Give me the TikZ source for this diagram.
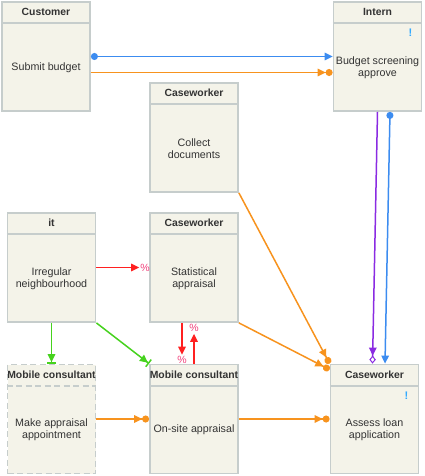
\documentclass[tikz,border=0pt]{standalone}
\usepackage{fontspec}
\setmainfont{Liberation Sans}
\usepackage{tikz}
\usetikzlibrary{positioning, arrows.meta, calc}
\definecolor{boxfill}{HTML}{F4F3E9}
\definecolor{boxline}{HTML}{C6CDCC}
\definecolor{inkgray}{HTML}{333333}
\definecolor{flowblue}{HTML}{3C8CF0}
\definecolor{floworange}{HTML}{F7931E}
\definecolor{flowred}{HTML}{FF2020}
\definecolor{flowpink}{HTML}{F0407A}
\definecolor{flowgreen}{HTML}{46D21E}
\definecolor{flowpurple}{HTML}{8A2BE2}
\definecolor{flagblue}{HTML}{33AAFF}
\tikzset{every node/.append style={execute at begin node={\hyphenpenalty=10000\exhyphenpenalty=10000\relax}}}
\tikzset{ahead/.tip={Triangle[length=8pt, width=7.5pt]},
  dot/.tip={Circle[length=7pt]},
  odia/.tip={Diamond[length=8pt, width=6.5pt, fill=white, line width=1pt]}}
% one activity: frame, role line, role and task
\newcommand{\taskbox}[5][]{%
  \node[task, #1] (#2) at (#3) {};
  \draw[boxline, line width=1.8pt, #1] ([yshift=-22pt]#2.north west) -- ([yshift=-22pt]#2.north east);
  \node[head] (#2-role) at ([yshift=-11pt]#2.north) {#4};
  \node[body] (#2-task) at ([yshift=-11pt]#2.center) {#5};
}

\begin{document}
\begin{tikzpicture}[x=1pt, y=-1pt, text=inkgray,
  task/.style={draw=boxline, fill=boxfill, line width=1.8pt, minimum width=88pt, minimum height=109pt, inner sep=0pt},
  head/.style={font=\fontsize{10.4}{12}\selectfont\bfseries, inner sep=0pt},
  body/.style={font=\fontsize{10.7}{12}\selectfont, align=center, inner sep=0pt},
  flow/.style={line width=1.5pt},
  pct/.style={text=flowpink, font=\fontsize{10.5}{12}\selectfont, inner sep=0pt},
  flag/.style={text=flagblue, font=\fontsize{11}{12}\selectfont\bfseries, inner sep=0pt},
  dashbox/.style={dash pattern=on 6pt off 3.5pt}]
  \useasboundingbox (0,0) rectangle (425,476);
  % activities
  \taskbox{cust}{46,56.5}{Customer}{Submit budget}
  \taskbox{intern}{377.5,56.5}{Intern}{Budget screening\\ approve}
  \taskbox{coll}{194,137.5}{Caseworker}{Collect\\ documents}
  \taskbox{irr}{51.5,267.5}{it}{Irregular\\ neighbourhood}
  \taskbox{stat}{194,267.5}{Caseworker}{Statistical\\ appraisal}
  \taskbox[dashbox]{mkapp}{51.5,419}{Mobile consultant}{Make appraisal\\ appointment}
  \taskbox{onsite}{194,419}{Mobile consultant}{On-site appraisal}
  \taskbox{assess}{374.5,419}{Caseworker}{Assess loan\\ application}
  \node[flag] (intern-flag) at ([xshift=-12pt, yshift=-32pt]intern.north east) {!};
  \node[flag] (assess-flag) at ([xshift=-13pt, yshift=-32pt]assess.north east) {!};

  % blue and orange flows
  \draw[flow, flowblue, {dot[]}-{ahead[]}] (cust.east) -- (intern.west);
  \draw[flow, floworange, -{ahead[] dot[]}] ([yshift=-16pt]cust.east) -- ([yshift=-16pt]intern.west);
  \draw[flow, flowpurple, -{ahead[] odia[]}] (intern.south) -- ([xshift=-2pt]assess.north);
  \draw[flow, flowblue, {dot[]}-{ahead[]}] ([xshift=12.5pt]intern.south) -- ([xshift=10.5pt]assess.north);
  \draw[flow, floworange, -{ahead[] dot[]}] (coll.south east) -- (assess.north west);
  \draw[flow, floworange, -{ahead[] dot[]}] (stat.south east) -- ([yshift=-6pt]assess.north west);
  \draw[flow, floworange, -{ahead[] dot[]}] (mkapp.east) -- (onsite.west);
  \draw[flow, floworange, -{ahead[] dot[]}] (onsite.east) -- (assess.west);

  % red flows with percent marks
  \draw[flow, flowred, -{ahead[]}, shorten >=10pt] (irr.east) -- (stat.west) node[pct, pos=1, xshift=-4pt]{\%};
  \draw[flow, flowred, -{ahead[]}, shorten >=9pt] ([xshift=-12pt]stat.south) -- ([xshift=-12pt]onsite.north) node[pct, pos=1, yshift=4pt]{\%};
  \draw[flow, flowred, -{ahead[]}, shorten >=11pt] (onsite.north) -- (stat.south) node[pct, pos=1, yshift=-5pt]{\%};

  % green flows
  \draw[flow, flowgreen, -{ahead[] Bar[width=9pt]}] (irr.south) -- (mkapp.north);
  \draw[flow, flowgreen, -{ahead[] Bar[width=9pt]}] (irr.south east) -- (onsite.north west);
\end{tikzpicture}
\end{document}
